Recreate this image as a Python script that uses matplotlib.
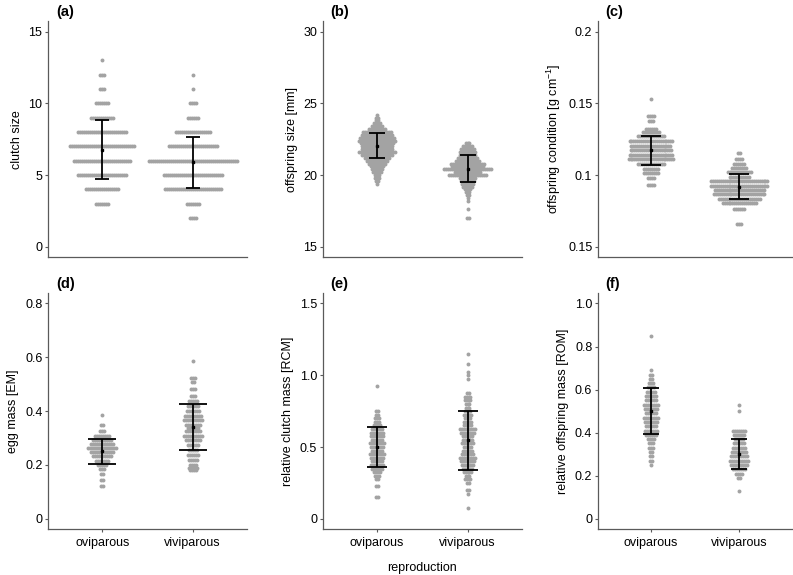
import numpy as np
import matplotlib
matplotlib.use("Agg")
import matplotlib.pyplot as plt

plt.rcParams["font.family"] = ["Liberation Sans", "DejaVu Sans"]
plt.rcParams["mathtext.default"] = "regular"

groups = ["oviparous", "viviparous"]

# binned values: (value, number of dots)
clutch_ovi = [(3, 7), (4, 17), (5, 25), (6, 29), (7, 33), (8, 25), (9, 12),
              (10, 7), (11, 3), (12, 3), (13, 1)]
clutch_viv = [(2, 4), (3, 7), (4, 29), (5, 30), (6, 45), (7, 25), (8, 18),
              (9, 6), (10, 4), (11, 1), (12, 1)]

size_ovi = [(19.4, 1), (19.6, 2), (19.8, 3), (20.0, 3), (20.2, 5), (20.4, 6),
            (20.6, 7), (20.8, 9), (21.0, 11), (21.2, 13), (21.4, 16), (21.6, 19),
            (21.8, 16), (22.0, 16), (22.2, 17), (22.4, 19), (22.6, 18), (22.8, 16),
            (23.0, 15), (23.2, 9), (23.4, 6), (23.6, 4), (23.8, 2), (24.0, 2), (24.2, 1)]
size_viv = [(17.0, 2), (17.6, 1), (18.2, 1), (18.4, 1), (18.6, 2), (18.8, 3),
            (19.0, 4), (19.2, 6), (19.4, 7), (19.6, 8), (19.8, 9), (20.0, 20),
            (20.2, 14), (20.4, 25), (20.6, 17), (20.8, 18), (21.0, 13), (21.2, 11),
            (21.4, 9), (21.6, 9), (21.8, 8), (22.0, 6), (22.2, 3)]

cond_ovi = [(0.0934, 4), (0.0976, 4), (0.1012, 8), (0.1044, 8), (0.1078, 14),
            (0.1113, 24), (0.1142, 23), (0.1171, 22), (0.1201, 21), (0.1235, 23),
            (0.127, 14), (0.1299, 9), (0.1318, 6), (0.1375, 3), (0.141, 4), (0.1527, 1)]
cond_viv = [(0.0662, 3), (0.076, 6), (0.0804, 18), (0.0833, 22), (0.0865, 27),
            (0.0895, 26), (0.0926, 30), (0.0956, 30), (0.0985, 11), (0.102, 13),
            (0.1049, 8), (0.1078, 6), (0.111, 4), (0.1152, 2)]

egg_ovi = [(0.123, 2), (0.145, 2), (0.167, 2), (0.185, 3), (0.201, 5), (0.216, 7),
           (0.232, 10), (0.247, 12), (0.263, 15), (0.279, 12), (0.294, 10),
           (0.309, 8), (0.325, 3), (0.350, 2), (0.387, 1)]
egg_viv = [(0.18, 4), (0.189, 5), (0.201, 4), (0.220, 5), (0.238, 6), (0.257, 5),
           (0.275, 6), (0.294, 8), (0.306, 10), (0.325, 8), (0.337, 6), (0.350, 8),
           (0.368, 10), (0.381, 9), (0.399, 7), (0.418, 6), (0.439, 5), (0.455, 3),
           (0.484, 3), (0.510, 2), (0.523, 3), (0.585, 1)]

rcm_ovi = [(0.15, 2), (0.225, 2), (0.275, 2), (0.30, 3), (0.325, 4), (0.35, 6),
           (0.375, 7), (0.40, 6), (0.425, 7), (0.45, 8), (0.475, 6), (0.50, 7),
           (0.525, 8), (0.55, 6), (0.575, 7), (0.60, 7), (0.625, 6), (0.65, 4),
           (0.675, 3), (0.70, 3), (0.725, 2), (0.75, 2), (0.925, 1)]
rcm_viv = [(0.075, 1), (0.175, 1), (0.20, 2), (0.25, 2), (0.275, 4), (0.30, 3),
           (0.325, 5), (0.35, 6), (0.375, 7), (0.40, 8), (0.425, 9), (0.45, 7),
           (0.475, 6), (0.50, 5), (0.525, 7), (0.55, 6), (0.575, 6), (0.60, 8),
           (0.625, 9), (0.65, 5), (0.675, 5), (0.70, 4), (0.725, 5), (0.75, 4),
           (0.775, 3), (0.80, 3), (0.825, 4), (0.85, 4), (0.875, 2), (0.975, 1),
           (1.0, 1), (1.025, 1), (1.075, 1), (1.15, 1)]

rom_ovi = [(0.25, 1), (0.27, 2), (0.29, 2), (0.31, 2), (0.33, 3), (0.35, 3),
           (0.37, 4), (0.39, 6), (0.41, 7), (0.43, 6), (0.45, 7), (0.47, 8),
           (0.49, 6), (0.51, 7), (0.53, 8), (0.55, 6), (0.57, 6), (0.59, 5),
           (0.61, 4), (0.63, 3), (0.65, 2), (0.67, 2), (0.69, 1), (0.85, 1)]
rom_viv = [(0.13, 1), (0.19, 2), (0.21, 4), (0.23, 7), (0.25, 9), (0.27, 10),
           (0.29, 9), (0.31, 8), (0.33, 7), (0.35, 6), (0.37, 5), (0.39, 6),
           (0.41, 7), (0.50, 1), (0.53, 1)]

# mean and SD per group
means = {"a": [6.75, 5.9], "b": [22.03, 20.45], "c": [0.1172, 0.0919],
         "d": [0.25, 0.341], "e": [0.50, 0.546], "f": [0.502, 0.302]}
sds = {"a": [2.05, 1.78], "b": [0.87, 0.97], "c": [0.0101, 0.0086],
       "d": [0.047, 0.084], "e": [0.14, 0.206], "f": [0.107, 0.069]}

panels = [
    ("a", clutch_ovi, clutch_viv, "clutch size", [0, 5, 10, 15], ["0", "5", "10", "15"], (0, 15), 5),
    ("b", size_ovi, size_viv, "offspring size [mm]", [15, 20, 25, 30], ["15", "20", "25", "30"], (15, 30), 6),
    ("c", cond_ovi, cond_viv, "offspring condition [g cm$^{-1}$]", [0.05, 0.1, 0.15, 0.2],
     ["0.15", "0.1", "0.15", "0.2"], (0.05, 0.2), 7.5),
    ("d", egg_ovi, egg_viv, "egg mass [EM]", [0, 0.2, 0.4, 0.6, 0.8], ["0", "0.2", "0.4", "0.6", "0.8"], (0, 0.8), 10),
    ("e", rcm_ovi, rcm_viv, "relative clutch mass [RCM]", [0, 0.5, 1.0, 1.5], ["0", "0.5", "1.0", "1.5"], (0, 1.5), 7),
    ("f", rom_ovi, rom_viv, "relative offspring mass [ROM]", [0, 0.2, 0.4, 0.6, 0.8, 1.0],
     ["0", "0.2", "0.4", "0.6", "0.8", "1.0"], (0, 1.0), 6),
]

fig = plt.figure(figsize=(7.93, 5.75), dpi=100)
lefts = [0.0605, 0.407, 0.754]
widths = [0.251, 0.251, 0.245]
bottoms = [0.553, 0.080]
height = 0.410

dot_col = "#a3a3a3"
spine_col = "#5a5a5a"
dx = 0.022
fs = 9

for i, (lab, ovi, viv, ylab, yt, ytl, (lo, hi), cap) in enumerate(panels):
    r, c = divmod(i, 3)
    ax = fig.add_axes([lefts[c], bottoms[r], widths[c], height])
    for xpos, data in zip([1, 2], [ovi, viv]):
        for val, n in data:
            offs = (np.arange(n) - (n - 1) / 2) * dx
            ax.scatter(xpos + offs, np.full(n, val), s=8, color=dot_col,
                       linewidths=0, zorder=2)
    ax.errorbar([1, 2], means[lab], yerr=sds[lab], fmt="s", ms=1.6, color="black",
                ecolor="black", elinewidth=1.3, capsize=cap, capthick=1.3, zorder=3)
    pad = (hi - lo) * 0.05
    ax.set_ylim(lo - pad * 0.95, hi + pad * 0.95)
    ax.set_xlim(0.4, 2.6)
    ax.set_yticks(yt)
    ax.set_yticklabels(ytl)
    ax.set_ylabel(ylab, fontsize=fs, labelpad=4)
    for s in ["top", "right"]:
        ax.spines[s].set_visible(False)
    for s in ["left", "bottom"]:
        ax.spines[s].set_color(spine_col)
        ax.spines[s].set_linewidth(0.9)
    ax.tick_params(axis="y", length=2, width=0.8, color=spine_col, labelsize=fs, pad=2)
    if r == 0:
        ax.set_xticks([])
    else:
        ax.set_xticks([1, 2])
        ax.set_xticklabels(groups)
        ax.tick_params(axis="x", length=2, width=0.8, color=spine_col, labelsize=fs, pad=4)
    ax.text(0.04, 1.01, "(%s)" % lab, transform=ax.transAxes, fontsize=10.5,
            fontweight="bold", va="bottom", ha="left")
    if lab == "e":
        ax.set_xlabel("reproduction", fontsize=fs, labelpad=9)

fig.savefig("out.png", dpi=100)
